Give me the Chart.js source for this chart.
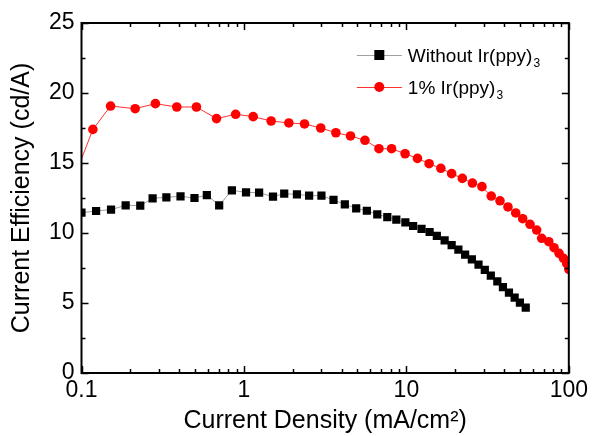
<!DOCTYPE html>
<html>
<head>
<meta charset="utf-8">
<script src="https://cdn.jsdelivr.net/npm/chart.js@4"></script>
<style>
  html, body { margin: 0; padding: 0; background: #fff; }
  #wrap { width: 592px; height: 436px; }
</style>
</head>
<body>
<div id="wrap"><canvas id="effChart" width="592" height="436"></canvas></div>
<script>
// current density (mA/cm2) and current efficiency (cd/A)
const xPlain = [0.1, 0.123, 0.152, 0.187, 0.230, 0.274, 0.333, 0.407, 0.496, 0.591, 0.704, 0.843,
  1.03, 1.24, 1.51, 1.77, 2.12, 2.52, 3.00, 3.56, 4.18, 4.91, 5.71, 6.62, 7.63, 8.67, 9.86,
  11.0, 12.4, 13.9, 15.4, 17.2, 19.0, 20.9, 23.0, 25.3, 27.8, 30.4, 33.1, 36.3, 39.3, 42.8,
  46.4, 50.0, 54.3];
const yPlain = [11.45, 11.57, 11.67, 11.98, 11.95, 12.48, 12.55, 12.62, 12.5, 12.71, 11.98, 13.05,
  12.9, 12.88, 12.6, 12.81, 12.76, 12.67, 12.67, 12.36, 12.05, 11.76, 11.59, 11.33, 11.14, 10.95, 10.76,
  10.5, 10.29, 10.07, 9.79, 9.48, 9.14, 8.81, 8.45, 8.12, 7.74, 7.36, 6.95, 6.55, 6.14, 5.74,
  5.38, 5.02, 4.67];

const xDoped = [0.092, 0.1175, 0.151, 0.214, 0.285, 0.386, 0.51, 0.678, 0.889, 1.14, 1.47, 1.89,
  2.36, 2.97, 3.68, 4.53, 5.56, 6.78, 8.11, 9.82, 11.7, 13.8, 16.3, 19.0, 22.1, 25.5, 29.2,
  33.3, 37.7, 42.2, 47.1, 52.0, 57.7, 63.4, 68.1, 75.3, 81.1, 87.1, 92.7, 97.2, 100];
const yDoped = [14.2, 17.4, 19.07, 18.88, 19.24, 19.0, 19.0, 18.17, 18.48, 18.31, 18.0, 17.86,
  17.79, 17.5, 17.16, 16.93, 16.62, 16.02, 16.02, 15.66, 15.33, 14.95, 14.62, 14.24, 13.9, 13.57, 13.31,
  12.64, 12.3, 11.86, 11.43, 11.02, 10.62, 10.21, 9.62, 9.38, 8.95, 8.55, 8.19, 7.81, 7.41];

const seriesNames = ['Without Ir(ppy)', '1% Ir(ppy)'];
const seriesSub = ['3', '3'];

const xTickValues = [0.1, 1, 10, 100];
const xTickLabels = ['0.1', '1', '10', '100'];
const xMinorValues = [0.2, 0.3, 0.4, 0.5, 0.6, 0.7, 0.8, 0.9, 2, 3, 4, 5, 6, 7, 8, 9,
  20, 30, 40, 50, 60, 70, 80, 90];
const yTickValues = [0, 5, 10, 15, 20, 25];
const yMinorValues = [2.5, 7.5, 12.5, 17.5, 22.5];

const FONT = 'Arial, "Liberation Sans", sans-serif';

const toPoints = (xs, ys) => xs.map((x, i) => ({ x: x, y: ys[i] }));

// ticks pointing inward on all four sides, plus the closed frame
const framePlugin = {
  id: 'frame',
  afterDraw(chart) {
    const { ctx, chartArea: a, scales } = chart;
    ctx.save();
    ctx.strokeStyle = '#000';
    ctx.lineWidth = 2;
    ctx.strokeRect(a.left, a.top, a.right - a.left, a.bottom - a.top);
    ctx.lineWidth = 1.5;
    ctx.beginPath();
    const vTick = (v, len) => {
      const px = Math.round(scales.x.getPixelForValue(v)) + 0.5;
      ctx.moveTo(px, a.bottom); ctx.lineTo(px, a.bottom - len);
      ctx.moveTo(px, a.top); ctx.lineTo(px, a.top + len);
    };
    const hTick = (v, len) => {
      const py = Math.round(scales.y.getPixelForValue(v)) + 0.5;
      ctx.moveTo(a.left, py); ctx.lineTo(a.left + len, py);
      ctx.moveTo(a.right, py); ctx.lineTo(a.right - len, py);
    };
    xTickValues.forEach(v => vTick(v, 7));
    xMinorValues.forEach(v => vTick(v, 4));
    yTickValues.forEach(v => hTick(v, 7));
    yMinorValues.forEach(v => hTick(v, 4));
    ctx.stroke();
    ctx.restore();
  }
};

// legend with subscript text
const legendPlugin = {
  id: 'subLegend',
  afterDraw(chart) {
    const { ctx, chartArea: a } = chart;
    ctx.save();
    chart.data.datasets.forEach((ds, i) => {
      const y = a.top + 32 + i * 32;
      const x0 = a.right - 212;
      ctx.strokeStyle = ds.borderColor;
      ctx.lineWidth = 1;
      ctx.beginPath();
      ctx.moveTo(x0, y + 0.5); ctx.lineTo(x0 + 45, y + 0.5);
      ctx.stroke();
      ctx.fillStyle = ds.pointBackgroundColor;
      ctx.beginPath();
      if (ds.pointStyle === 'rect') {
        ctx.rect(x0 + 22.5 - 5, y - 5, 10, 10);
      } else {
        ctx.arc(x0 + 22.5, y, 5, 0, Math.PI * 2);
      }
      ctx.fill();
      ctx.fillStyle = '#000';
      ctx.textBaseline = 'alphabetic';
      ctx.font = '19px ' + FONT;
      const tx = x0 + 51;
      ctx.fillText(seriesNames[i], tx, y + 7);
      const w = ctx.measureText(seriesNames[i]).width;
      ctx.font = '12px ' + FONT;
      ctx.fillText(seriesSub[i], tx + w + 1, y + 12);
    });
    ctx.restore();
  }
};

new Chart(document.getElementById('effChart').getContext('2d'), {
  type: 'scatter',
  data: {
    datasets: [
      {
        label: seriesNames[0] + seriesSub[0],
        data: toPoints(xPlain, yPlain),
        showLine: true,
        borderColor: '#a0a0a0',
        borderWidth: 1,
        pointStyle: 'rect',
        pointRadius: 5.8,
        pointBackgroundColor: '#000',
        pointBorderWidth: 0
      },
      {
        label: seriesNames[1] + seriesSub[1],
        data: toPoints(xDoped, yDoped),
        showLine: true,
        borderColor: '#ff3030',
        borderWidth: 1,
        pointStyle: 'circle',
        pointRadius: 4.8,
        pointBackgroundColor: '#ff0000',
        pointBorderWidth: 0
      }
    ]
  },
  plugins: [framePlugin, legendPlugin],
  options: {
    responsive: false,
    animation: false,
    layout: { padding: { left: 0, right: 0, top: 23, bottom: 0 } },
    plugins: {
      legend: { display: false },
      tooltip: { enabled: false }
    },
    scales: {
      x: {
        type: 'logarithmic',
        min: 0.1,
        max: 100,
        grid: { display: false, drawTicks: false },
        border: { display: false },
        afterBuildTicks: (scale) => { scale.ticks = xTickValues.map(v => ({ value: v })); },
        afterFit: (scale) => { scale.height = 63; },
        ticks: {
          color: '#000',
          font: { family: FONT, size: 23 },
          padding: 4,
          maxRotation: 0,
          autoSkip: false,
          callback: (v) => xTickLabels[xTickValues.indexOf(v)]
        },
        title: {
          display: true,
          text: 'Current Density (mA/cm\u00B2)',
          color: '#000',
          font: { family: FONT, size: 25 },
          padding: { top: 0, bottom: 0 }
        }
      },
      y: {
        min: 0,
        max: 25,
        grid: { display: false, drawTicks: false },
        border: { display: false },
        afterBuildTicks: (scale) => { scale.ticks = yTickValues.map(v => ({ value: v })); },
        afterFit: (scale) => { scale.width = 81.5; },
        ticks: {
          color: '#000',
          font: { family: FONT, size: 23 },
          padding: 7
        },
        title: {
          display: true,
          text: 'Current Efficiency (cd/A)',
          color: '#000',
          font: { family: FONT, size: 25 },
          padding: { top: 7, bottom: 0 }
        }
      }
    }
  }
});
</script>
</body>
</html>
